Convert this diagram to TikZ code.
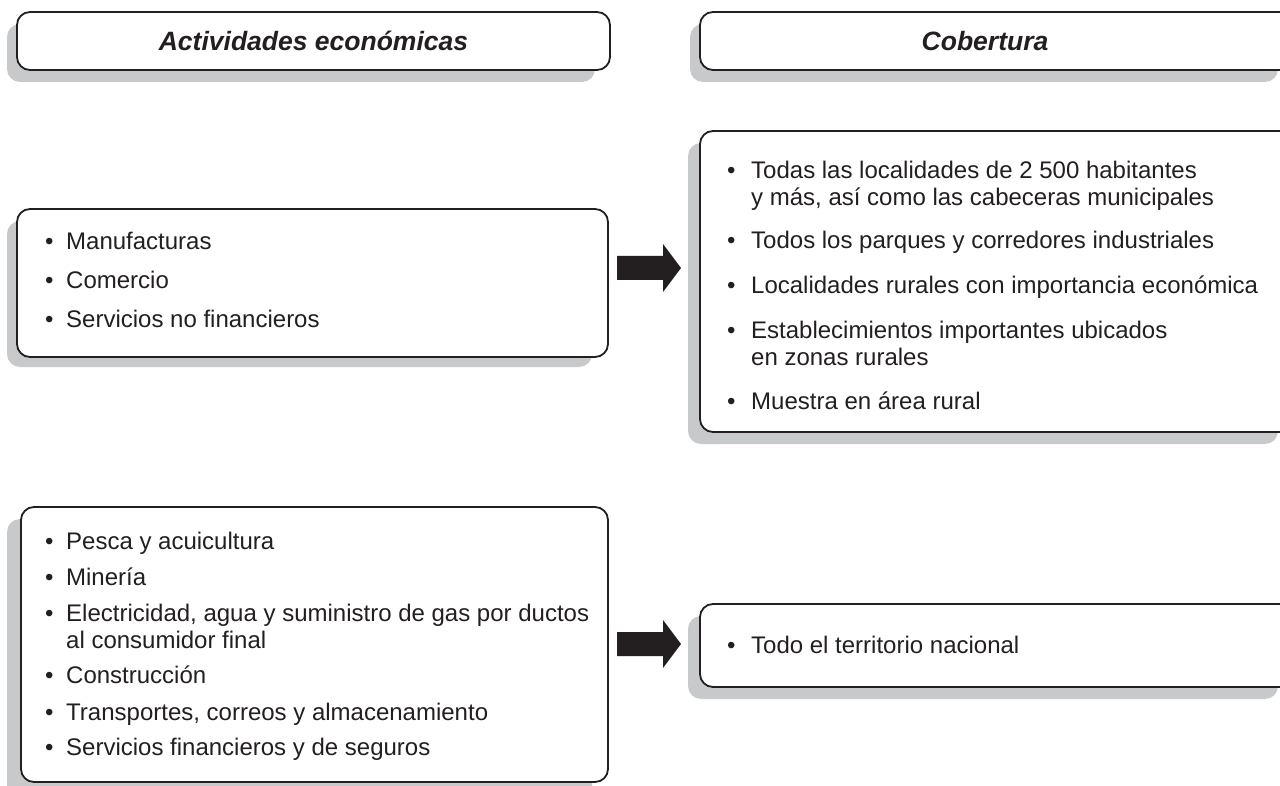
\documentclass[tikz,border=0pt]{standalone}
\usepackage{fontspec}
\setmainfont{Liberation Sans}
\definecolor{outl}{HTML}{231F20}
\definecolor{shadowgray}{HTML}{C8C9CB}
\newcommand\bulL{\makebox[21pt][l]{•}}
\newcommand\bulR{\makebox[24pt][l]{•}}
\begin{document}
\begin{tikzpicture}[x=1pt,y=-1pt,
  box/.style={draw=outl, line width=1.8pt, fill=white, rounded corners=13pt},
  shad/.style={fill=shadowgray, rounded corners=13pt},
  txt/.style={anchor=base west, inner sep=0pt, font=\fontsize{24}{27}\selectfont, text=outl},
  head/.style={inner sep=0pt, font=\fontsize{26.5}{30}\selectfont\bfseries\itshape, text=outl},
  blk/.style={fill=outl, draw=none}]
\clip (0,0) rectangle (1280,786);
\fill[white] (0,0) rectangle (1280,786);
% shadows
\fill[shad] (7,24) rectangle (595,82);
\fill[shad] (690,24) rectangle (1278,82);
\fill[shad] (7,221) rectangle (592,367);
\fill[shad] (688,143) rectangle (1278,444);
\fill[shad] (7,519) rectangle (592,800);
\fill[shad] (688,616) rectangle (1278,699);
% boxes
\draw[box] (17,12) rectangle (610,70);
\draw[box] (700,12) rectangle (1295,70);
\draw[box] (17,209) rectangle (608,357);
\draw[box] (700,131) rectangle (1295,432);
\draw[box] (21,507) rectangle (608,782);
\draw[box] (700,604) rectangle (1295,687);
% headers
\node[head] (h1) at (313.5,41) {Actividades económicas};
\node[head] (h2) at (985,41) {Cobertura};
% arrows
\fill[blk] (617,256) -- (663,256) -- (663,244) -- (681,268) -- (663,292) -- (663,280) -- (617,280) -- cycle;
\fill[blk] (617,632) -- (663,632) -- (663,620) -- (681,644) -- (663,668) -- (663,656) -- (617,656) -- cycle;
% left upper
\node[txt] (a1) at (45,250) {\bulL Manufacturas};
\node[txt] (a2) at (45,289) {\bulL Comercio};
\node[txt] (a3) at (45,328) {\bulL Servicios no financieros};
% right upper
\node[txt] (b1) at (727,179) {\bulR Todas las localidades de 2 500 habitantes};
\node[txt] (b1b) at (751,206) {y más, así como las cabeceras municipales};
\node[txt] (b2) at (727,249) {\bulR Todos los parques y corredores industriales};
\node[txt] (b3) at (727,294) {\bulR Localidades rurales con importancia económica};
\node[txt] (b4) at (727,339) {\bulR Establecimientos importantes ubicados};
\node[txt] (b4b) at (751,365) {en zonas rurales};
\node[txt] (b5) at (727,409) {\bulR Muestra en área rural};
% left lower
\node[txt] (c1) at (45,549) {\bulL Pesca y acuicultura};
\node[txt] (c2) at (45,585) {\bulL Minería};
\node[txt] (c3) at (45,621) {\bulL Electricidad, agua y suministro de gas por ductos};
\node[txt] (c3b) at (66,648) {al consumidor final};
\node[txt] (c4) at (45,683) {\bulL Construcción};
\node[txt] (c5) at (45,720) {\bulL Transportes, correos y almacenamiento};
\node[txt] (c6) at (45,755) {\bulL Servicios financieros y de seguros};
% right lower
\node[txt] (d1) at (727,653) {\bulR Todo el territorio nacional};
\end{tikzpicture}
\end{document}
